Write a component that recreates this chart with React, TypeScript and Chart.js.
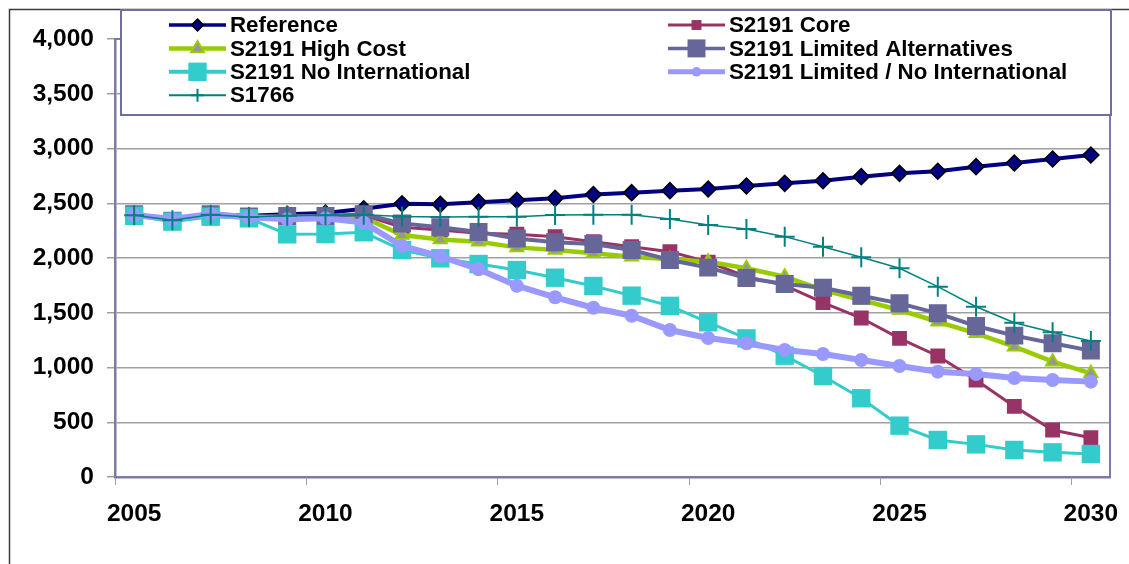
import React, { useEffect, useRef } from "react";
import { Chart, registerables } from "chart.js";

Chart.register(...registerables);

const YEARS = [
  "2005", "2006", "2007", "2008", "2009", "2010", "2011", "2012", "2013",
  "2014", "2015", "2016", "2017", "2018", "2019", "2020", "2021", "2022",
  "2023", "2024", "2025", "2026", "2027", "2028", "2029", "2030",
];

const REFERENCE = [2400, 2340, 2400, 2385, 2400, 2410, 2450, 2495, 2490, 2510, 2527, 2545, 2580, 2597, 2615, 2630, 2658, 2682, 2706, 2743, 2773, 2792, 2834, 2868, 2904, 2941];
const CORE = [2400, 2340, 2400, 2380, 2380, 2375, 2390, 2280, 2255, 2225, 2217, 2195, 2149, 2103, 2058, 1963, 1829, 1750, 1593, 1452, 1266, 1105, 886, 645, 429, 359];
const HIGH_COST = [2400, 2340, 2400, 2375, 2370, 2360, 2370, 2210, 2170, 2149, 2097, 2073, 2043, 2012, 1988, 1966, 1906, 1829, 1708, 1616, 1525, 1418, 1312, 1190, 1053, 947];
const LIMITED_ALT = [2400, 2340, 2400, 2380, 2383, 2383, 2400, 2316, 2280, 2237, 2179, 2143, 2128, 2073, 1982, 1912, 1817, 1763, 1729, 1656, 1586, 1495, 1379, 1291, 1221, 1154];
const NO_INTL = [2385, 2332, 2377, 2362, 2216, 2219, 2235, 2073, 1997, 1945, 1890, 1820, 1744, 1656, 1563, 1413, 1266, 1108, 922, 719, 469, 338, 298, 247, 225, 210];
const LIMITED_NO_INTL = [2393, 2356, 2402, 2372, 2353, 2362, 2323, 2110, 2015, 1897, 1747, 1641, 1546, 1473, 1342, 1270, 1221, 1160, 1123, 1068, 1014, 962, 941, 904, 886, 871];
const S1766 = [2390, 2345, 2395, 2375, 2385, 2390, 2395, 2380, 2375, 2377, 2377, 2393, 2395, 2395, 2356, 2301, 2265, 2195, 2103, 2006, 1906, 1738, 1555, 1409, 1321, 1242];

const Y_TICKS_STEP = 500;
const Y_MAX = 4000;

const FONT_FAMILY = '"Liberation Sans", Arial, Helvetica, sans-serif';
const AXIS_COLOR = "#7b7ba3";
const GRID_COLOR = "#a0a0a0";

function drawMarker(
  ctx: CanvasRenderingContext2D,
  style: string,
  x: number,
  y: number,
  r: number,
  fill: string,
  stroke: string,
  bw: number
) {
  ctx.beginPath();
  if (style === "rectRot") {
    ctx.moveTo(x, y - r);
    ctx.lineTo(x + r, y);
    ctx.lineTo(x, y + r);
    ctx.lineTo(x - r, y);
    ctx.closePath();
  } else if (style === "rect") {
    const s = r * Math.SQRT1_2;
    ctx.rect(x - s, y - s, 2 * s, 2 * s);
  } else if (style === "triangle") {
    ctx.moveTo(x, y - r);
    ctx.lineTo(x + r * 0.866, y + r * 0.5);
    ctx.lineTo(x - r * 0.866, y + r * 0.5);
    ctx.closePath();
  } else if (style === "circle") {
    ctx.arc(x, y, r, 0, Math.PI * 2);
  } else if (style === "cross") {
    ctx.moveTo(x, y - r);
    ctx.lineTo(x, y + r);
    ctx.moveTo(x - r, y);
    ctx.lineTo(x + r, y);
  }
  if (style !== "cross") {
    ctx.fillStyle = fill;
    ctx.fill();
  }
  if (bw > 0) {
    ctx.lineWidth = bw;
    ctx.strokeStyle = stroke;
    ctx.stroke();
  }
}

const framePlugin = {
  id: "frameAndLegend",
  beforeDraw(chart: any) {
    const ctx = chart.ctx as CanvasRenderingContext2D;
    ctx.save();
    ctx.fillStyle = "#ffffff";
    ctx.fillRect(0, 0, chart.width, chart.height);
    ctx.strokeStyle = "#3c3c3c";
    ctx.lineWidth = 1.5;
    ctx.beginPath();
    ctx.moveTo(9.5, chart.height);
    ctx.lineTo(9.5, 9.5);
    ctx.lineTo(chart.width, 9.5);
    ctx.stroke();
    ctx.restore();
  },
  afterDraw(chart: any) {
    const ctx = chart.ctx as CanvasRenderingContext2D;
    const a = chart.chartArea;
    ctx.save();
    // plot-area border (top & right)
    ctx.strokeStyle = AXIS_COLOR;
    ctx.lineWidth = 2;
    ctx.beginPath();
    ctx.moveTo(a.left, a.top);
    ctx.lineTo(a.right, a.top);
    ctx.lineTo(a.right, a.bottom);
    ctx.stroke();

    // legend box
    const bx = 121, by = 10, bw = 990, bh = 105;
    ctx.fillStyle = "#ffffff";
    ctx.fillRect(bx, by, bw, bh);
    ctx.strokeStyle = "#6e6ea2";
    ctx.lineWidth = 2;
    ctx.strokeRect(bx, by, bw, bh);

    const colX = [169, 668];
    const lineLen = 57;
    chart.data.datasets.forEach((ds: any, i: number) => {
      const col = i % 2;
      const row = Math.floor(i / 2);
      const x0 = colX[col];
      const x1 = x0 + lineLen;
      const y = 25 + row * 23.4;
      ctx.beginPath();
      ctx.strokeStyle = ds.borderColor;
      ctx.lineWidth = ds.legendLineWidth;
      ctx.moveTo(x0, y);
      ctx.lineTo(x1, y);
      ctx.stroke();
      drawMarker(
        ctx,
        ds.pointStyle,
        (x0 + x1) / 2,
        y,
        ds.legendRadius,
        ds.pointBackgroundColor,
        ds.pointBorderColor,
        ds.pointBorderWidth
      );
      ctx.fillStyle = "#000000";
      ctx.font = `bold 22.3px ${FONT_FAMILY}`;
      ctx.textBaseline = "middle";
      ctx.textAlign = "left";
      ctx.fillText(ds.label, x1 + 4, y + 1);
    });
    ctx.restore();
  },
};

export default function App() {
  const canvasRef = useRef<HTMLCanvasElement | null>(null);

  useEffect(() => {
    const canvas = canvasRef.current;
    if (!canvas) return;

    const datasets: any[] = [
      {
        label: "Reference",
        data: REFERENCE,
        borderColor: "#000080",
        borderWidth: 4,
        pointStyle: "rectRot",
        pointRadius: 8,
        pointBackgroundColor: "#000080",
        pointBorderColor: "#000000",
        pointBorderWidth: 1.5,
        legendRadius: 6,
        legendLineWidth: 3.5,
        order: 7,
      },
      {
        label: "S2191 Core",
        data: CORE,
        borderColor: "#993366",
        borderWidth: 3,
        pointStyle: "rect",
        pointRadius: 10.5,
        pointBackgroundColor: "#993366",
        pointBorderColor: "#993366",
        pointBorderWidth: 0,
        legendRadius: 7,
        legendLineWidth: 3,
        order: 6,
      },
      {
        label: "S2191 High Cost",
        data: HIGH_COST,
        borderColor: "#99cc00",
        borderWidth: 4.5,
        pointStyle: "triangle",
        pointRadius: 7.5,
        pointBackgroundColor: "#969696",
        pointBorderColor: "#99cc00",
        pointBorderWidth: 2,
        legendRadius: 7.5,
        legendLineWidth: 4.5,
        order: 5,
      },
      {
        label: "S2191 Limited Alternatives",
        data: LIMITED_ALT,
        borderColor: "#666699",
        borderWidth: 4,
        pointStyle: "rect",
        pointRadius: 12.7,
        pointBackgroundColor: "#666699",
        pointBorderColor: "#666699",
        pointBorderWidth: 0,
        legendRadius: 12.7,
        legendLineWidth: 3.5,
        order: 4,
      },
      {
        label: "S2191 No International",
        data: NO_INTL,
        borderColor: "#33cccc",
        borderWidth: 3,
        pointStyle: "rect",
        pointRadius: 13,
        pointBackgroundColor: "#33cccc",
        pointBorderColor: "#33cccc",
        pointBorderWidth: 0,
        legendRadius: 13,
        legendLineWidth: 4,
        order: 3,
      },
      {
        label: "S2191 Limited / No International",
        data: LIMITED_NO_INTL,
        borderColor: "#9999ff",
        borderWidth: 6,
        pointStyle: "circle",
        pointRadius: 7,
        pointBackgroundColor: "#9999ff",
        pointBorderColor: "#9999ff",
        pointBorderWidth: 0,
        legendRadius: 4.8,
        legendLineWidth: 5,
        order: 2,
      },
      {
        label: "S1766",
        data: S1766,
        borderColor: "#008080",
        borderWidth: 1.5,
        pointStyle: "cross",
        pointRadius: 10,
        pointBackgroundColor: "#008080",
        pointBorderColor: "#008080",
        pointBorderWidth: 2,
        legendRadius: 6.5,
        legendLineWidth: 2,
        order: 1,
      },
    ];

    const tickFont = { family: FONT_FAMILY, size: 24.5, weight: "bold" as const };

    const chart = new Chart(canvas, {
      type: "line",
      data: { labels: YEARS, datasets },
      options: {
        animation: false,
        responsive: false,
        maintainAspectRatio: false,
        devicePixelRatio: 1,
        layout: { padding: { top: 39, right: 19, left: 0, bottom: 0 } },
        elements: { line: { tension: 0 } },
        plugins: {
          legend: { display: false },
          tooltip: { enabled: false },
        },
        scales: {
          x: {
            type: "category",
            offset: true,
            grid: {
              offset: true,
              drawOnChartArea: false,
              tickLength: 8,
              tickColor: (c: any) => (c.index % 5 === 0 ? GRID_COLOR : "rgba(0,0,0,0)"),
            },
            border: { color: AXIS_COLOR, width: 2.5 },
            ticks: {
              autoSkip: false,
              maxRotation: 0,
              minRotation: 0,
              padding: 15,
              color: "#000000",
              font: tickFont,
              callback: (_v: any, i: number) => (i % 5 === 0 ? YEARS[i] : ""),
            },
            afterFit: (s: any) => {
              s.height = 87;
              s.paddingLeft = 0;
              s.paddingRight = 0;
            },
          },
          y: {
            min: 0,
            max: Y_MAX,
            grid: { color: GRID_COLOR, tickLength: 8, lineWidth: 1.5 },
            border: { color: AXIS_COLOR, width: 2.5 },
            ticks: {
              stepSize: Y_TICKS_STEP,
              padding: 13,
              color: "#000000",
              font: tickFont,
              callback: (v: any) => Number(v).toLocaleString("en-US"),
            },
            afterFit: (s: any) => {
              s.width = 115;
            },
          },
        },
      },
      plugins: [framePlugin],
    });

    return () => chart.destroy();
  }, []);

  return (
    <div style={{ position: "fixed", left: 0, top: 0, width: 1129, height: 564, background: "#fff" }}>
      <canvas ref={canvasRef} width={1129} height={564} style={{ display: "block" }} />
    </div>
  );
}
